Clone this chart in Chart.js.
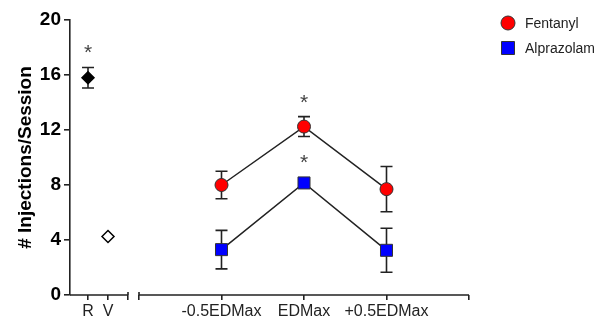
<!DOCTYPE html>
<html>
<head>
<meta charset="utf-8">
<script src="https://cdn.jsdelivr.net/npm/chart.js@4/dist/chart.umd.min.js"></script>
<style>
  html, body { margin: 0; padding: 0; background: #fff; }
  #wrap { width: 607px; height: 324px; position: relative; }
</style>
</head>
<body>
<div id="wrap"><canvas id="c" width="607" height="324"></canvas></div>
<script>
// ---- data ----
const rvLabels = ['R', 'V'];
const rvValues = [15.8, 4.25];
const rvSem = [0.75, 0];
const rvSig = [true, false];

const categories = ['-0.5EDMax', 'EDMax', '+0.5EDMax'];
const fentanyl = [8.0, 12.25, 7.7];
const fentanylSem = [1.0, 0.72, 1.65];
const fentanylSig = [false, true, false];
const alprazolam = [3.3, 8.15, 3.25];
const alprazolamSem = [1.4, 0.3, 1.6];
const alprazolamSig = [false, true, false];

const yTicks = [0, 4, 8, 12, 16, 20];

// ---- styling ----
const FONT = "'Liberation Sans', Arial, sans-serif";
const INK = '#222';
const doseAxisLabels = [''].concat(categories, ['']);

const errorBarPlugin = {
  id: 'errorBars',
  beforeDatasetsDraw(chart) {
    const ctx = chart.ctx;
    const y = chart.scales.y;
    ctx.save();
    ctx.strokeStyle = INK;
    ctx.lineWidth = 1.6;
    chart.data.datasets.forEach((ds, di) => {
      const meta = chart.getDatasetMeta(di);
      meta.data.forEach((pt, i) => {
        const sem = ds.sem[i];
        if (!sem) return;
        const v = ds.data[i].y;
        const top = y.getPixelForValue(v + sem);
        const bot = y.getPixelForValue(v - sem);
        const x = pt.x, cap = 6;
        ctx.beginPath();
        ctx.moveTo(x, top); ctx.lineTo(x, bot);
        ctx.moveTo(x - cap, top); ctx.lineTo(x + cap, top);
        ctx.moveTo(x - cap, bot); ctx.lineTo(x + cap, bot);
        ctx.stroke();
      });
    });
    ctx.restore();
  },
  afterDatasetsDraw(chart) {
    const ctx = chart.ctx;
    const y = chart.scales.y;
    ctx.save();
    ctx.fillStyle = '#444';
    ctx.font = '21px ' + FONT;
    ctx.textAlign = 'center';
    ctx.textBaseline = 'alphabetic';
    chart.data.datasets.forEach((ds, di) => {
      const meta = chart.getDatasetMeta(di);
      meta.data.forEach((pt, i) => {
        if (!ds.sig[i]) return;
        const v = ds.data[i].y;
        const top = Math.min(y.getPixelForValue(v + ds.sem[i]), pt.y - 6);
        ctx.fillText('*', pt.x, top - 8);
      });
    });
    ctx.restore();
  }
};

const axisPlugin = {
  id: 'brokenAxis',
  afterDraw(chart) {
    const ctx = chart.ctx;
    const a = chart.scales.xRV, b = chart.scales.xDose;
    const yb = chart.chartArea.bottom;
    ctx.save();
    ctx.strokeStyle = INK;
    ctx.lineWidth = 1.6;
    ctx.beginPath();
    ctx.moveTo(a.left, yb); ctx.lineTo(a.getPixelForValue(2), yb);
    ctx.moveTo(b.getPixelForValue(0), yb); ctx.lineTo(b.right, yb);
    const e1 = a.getPixelForValue(2), s2 = b.getPixelForValue(0);
    ctx.moveTo(e1, yb - 3); ctx.lineTo(e1, yb);
    ctx.moveTo(s2, yb - 3); ctx.lineTo(s2, yb);
    ctx.stroke();
    ctx.restore();
  }
};

const legendPlugin = {
  id: 'sideLegend',
  afterDraw(chart) {
    const ctx = chart.ctx;
    const items = chart.data.datasets.filter(d => d.inLegend);
    ctx.save();
    ctx.font = '14px ' + FONT;
    ctx.textBaseline = 'middle';
    ctx.textAlign = 'left';
    items.forEach((ds, i) => {
      const cx = 508, cy = 23 + i * 25;
      ctx.fillStyle = ds.pointBackgroundColor;
      ctx.strokeStyle = '#333';
      ctx.lineWidth = 1;
      ctx.beginPath();
      if (ds.pointStyle === 'circle') {
        ctx.arc(cx, cy, 7, 0, Math.PI * 2);
      } else {
        ctx.rect(cx - 6.5, cy - 6.5, 13, 13);
      }
      ctx.fill(); ctx.stroke();
      ctx.fillStyle = '#222';
      ctx.fillText(ds.label, 525, cy + 1);
    });
    ctx.restore();
  }
};

const xTickFont = { family: FONT, size: 16, lineHeight: 1.25 };

new Chart(document.getElementById('c'), {
  type: 'line',
  data: {
    datasets: [
      {
        label: 'Reference',
        inLegend: false,
        xAxisID: 'xRV',
        data: rvLabels.map((l, i) => ({ x: i, y: rvValues[i] })),
        sem: rvSem, sig: rvSig,
        showLine: false,
        pointStyle: 'rectRot',
        pointRadius: 6,
        pointBackgroundColor: ['#000', '#fff'],
        pointBorderColor: '#000',
        pointBorderWidth: 1.5
      },
      {
        label: 'Fentanyl',
        inLegend: true,
        xAxisID: 'xDose',
        data: categories.map((c, i) => ({ x: c, y: fentanyl[i] })),
        sem: fentanylSem, sig: fentanylSig,
        borderColor: INK,
        borderWidth: 1.5,
        pointStyle: 'circle',
        pointRadius: 6.5,
        pointBackgroundColor: '#ff0000',
        pointBorderColor: '#333',
        pointBorderWidth: 1
      },
      {
        label: 'Alprazolam',
        inLegend: true,
        xAxisID: 'xDose',
        data: categories.map((c, i) => ({ x: c, y: alprazolam[i] })),
        sem: alprazolamSem, sig: alprazolamSig,
        borderColor: INK,
        borderWidth: 1.5,
        pointStyle: 'rect',
        pointRadius: 8.5,
        pointBackgroundColor: '#0000ff',
        pointBorderColor: '#333',
        pointBorderWidth: 1
      }
    ]
  },
  options: {
    responsive: false,
    animation: false,
    clip: false,
    layout: { padding: { left: 0, top: 20, right: 138, bottom: 0 } },
    plugins: { legend: { display: false }, tooltip: { enabled: false } },
    scales: {
      xRV: {
        type: 'linear',
        position: 'bottom',
        stack: 'xs',
        stackWeight: 69,
        min: -0.9,
        max: 2.55,
        afterBuildTicks: s => { s.ticks = [0, 1, 2].map(v => ({ value: v })); },
        ticks: {
          callback: v => rvLabels[v] ?? '',
          font: xTickFont,
          color: '#222',
          padding: 2,
          maxRotation: 0,
          autoSkip: false
        },
        grid: { drawOnChartArea: false, drawTicks: true, tickLength: 5, color: INK, lineWidth: 1.6 },
        border: { display: false }
      },
      xDose: {
        type: 'category',
        labels: doseAxisLabels,
        position: 'bottom',
        stack: 'xs',
        stackWeight: 330,
        offset: false,
        ticks: {
          font: xTickFont,
          color: '#222',
          padding: 2,
          maxRotation: 0,
          autoSkip: false
        },
        grid: { drawOnChartArea: false, drawTicks: true, tickLength: 5, color: INK, lineWidth: 1.6 },
        border: { display: false }
      },
      y: {
        min: 0,
        max: 20,
        afterBuildTicks: s => { s.ticks = yTicks.map(v => ({ value: v })); },
        afterFit: s => { s.width = 70; },
        ticks: {
          font: { family: FONT, size: 19, weight: 'bold' },
          color: '#000',
          padding: 3
        },
        grid: { drawOnChartArea: false, drawTicks: true, tickLength: 6, color: INK, lineWidth: 1.6 },
        border: { display: true, color: INK, width: 1.6 },
        title: {
          display: true,
          text: '# Injections/Session',
          font: { family: FONT, size: 19, weight: 'bold' },
          color: '#000',
          padding: { top: 14, bottom: 0 }
        }
      }
    }
  },
  plugins: [errorBarPlugin, axisPlugin, legendPlugin]
});
</script>
</body>
</html>
